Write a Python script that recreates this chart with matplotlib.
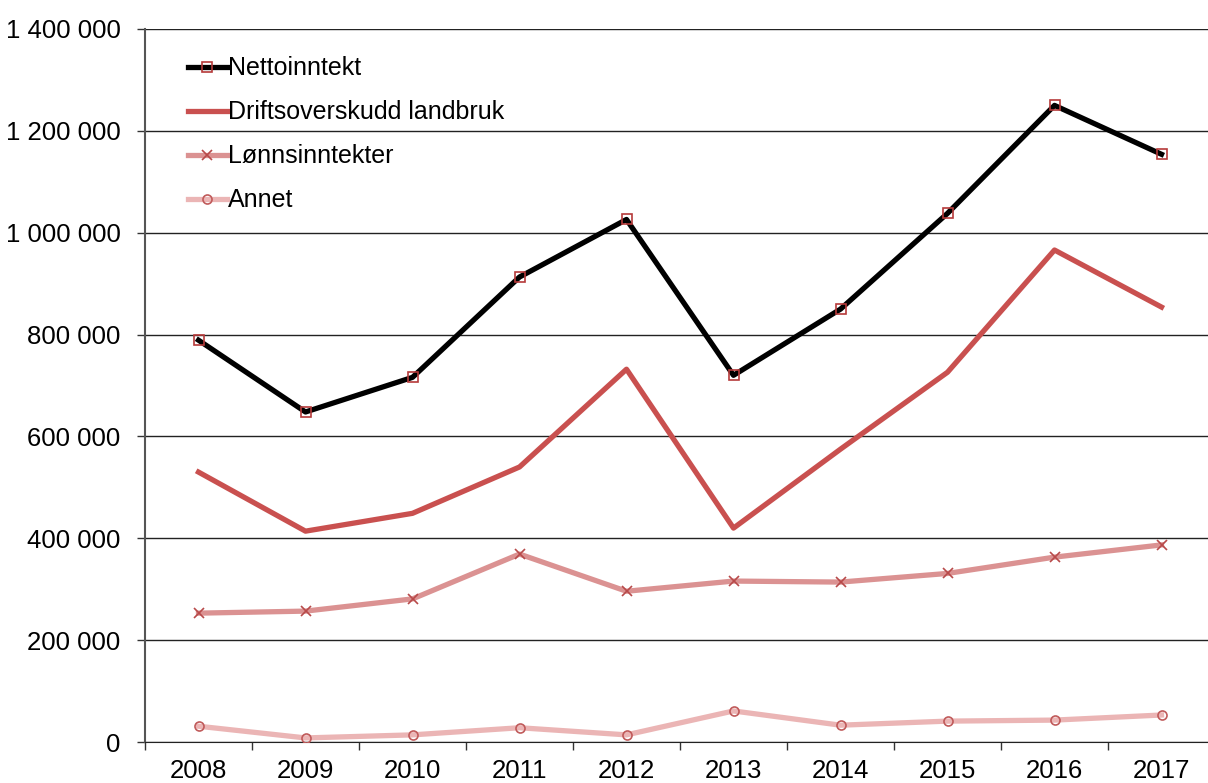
import matplotlib.pyplot as plt
from matplotlib.ticker import FuncFormatter

plt.rcParams['font.family'] = ['Liberation Sans', 'DejaVu Sans']

years = ["2008", "2009", "2010", "2011", "2012", "2013", "2014", "2015", "2016", "2017"]
netto = [789000, 648000, 716000, 913000, 1026000, 720000, 850000, 1038000, 1250000, 1154000]
drift = [530000, 414000, 449000, 540000, 732000, 420000, 575000, 726000, 966000, 854000]
lonn = [253000, 257000, 281000, 369000, 296000, 316000, 314000, 331000, 363000, 387000]
annet = [31000, 8000, 14000, 28000, 14000, 61000, 33000, 41000, 43000, 53000]

fig = plt.figure(figsize=(12.08, 7.83), dpi=100)
ax = fig.add_axes([145 / 1208, 41 / 783, 1070 / 1208, 713 / 783])

x = range(len(years))
lw = 3.8
ax.plot(x, netto, color="black", lw=lw, marker="s", ms=6.5, mfc="none", mec="#b53a3a", mew=1.2,
        label="Nettoinntekt", zorder=5)
ax.plot(x, drift, color="#c9504f", lw=lw, label="Driftsoverskudd landbruk", zorder=4)
ax.plot(x, lonn, color="#db9292", lw=lw, marker="x", ms=6.5, mec="#b84a4a", mew=1.2,
        label="Lønnsinntekter", zorder=3)
ax.plot(x, annet, color="#ebb5b5", lw=lw, marker="o", ms=6.5, mfc="none", mec="#c05a5a", mew=1.2,
        label="Annet", zorder=3)

ax.set_xlim(-0.5, len(years) - 0.5)
ax.set_ylim(0, 1400000)
ax.set_yticks(range(0, 1400001, 200000))
ax.yaxis.set_major_formatter(FuncFormatter(lambda v, p: f"{int(v):,}".replace(",", " ")))
ax.set_xticks(list(x))
ax.set_xticklabels(years)
ax.set_xticks([i - 0.5 for i in range(len(years) + 1)], minor=True)
ax.tick_params(axis="x", which="major", length=0, pad=12, labelsize=18.5)
ax.tick_params(axis="x", which="minor", length=6, width=1, color="#333333")
ax.tick_params(axis="y", length=5.5, width=1, color="#333333", pad=12, labelsize=18.5)

ax.grid(axis="y", color="#222222", lw=1)
ax.set_axisbelow(True)
for s in ["top", "right"]:
    ax.spines[s].set_visible(False)
ax.spines["left"].set_color("#555555")
ax.spines["left"].set_linewidth(1.5)
ax.spines["bottom"].set_color("#222222")

ax.legend(loc="upper left", bbox_to_anchor=(0.019, 0.993), frameon=False, fontsize=18,
          handlelength=1.55, handletextpad=0.05, labelspacing=0.8)

fig.savefig("out.png", dpi=100)
